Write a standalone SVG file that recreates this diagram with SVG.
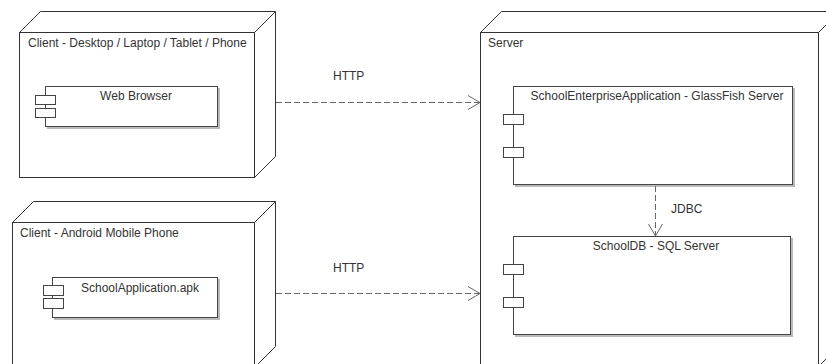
<svg xmlns="http://www.w3.org/2000/svg" width="826" height="364" viewBox="0 0 826 364">
<style>
.node{fill:#fff;stroke:#333;stroke-width:1}
.side{fill:#fff;stroke:#333;stroke-width:1}
.comp{fill:#fff;stroke:#444;stroke-width:1}
.shadow{fill:#bbb;stroke:none}
.port{fill:#fff;stroke:#444;stroke-width:1}
.t{font-family:"Liberation Sans",Arial,sans-serif;font-size:12px;fill:#333}
.dep{fill:none;stroke:#666;stroke-width:1;stroke-dasharray:6,3}
.head{fill:none;stroke:#666;stroke-width:1}
</style>
<rect width="826" height="364" fill="#fff"/>
<g id="client-desktop">
<path class="side" d="M19.5,32.5 L40.5,11.5 L275.5,11.5 L275.5,156.5 L254.5,177.5 L254.5,32.5 Z"/>
<path class="side" d="M254.5,32.5 L275.5,11.5"/>
<rect class="node" x="19.5" y="32.5" width="235" height="145"/>
<text class="t" x="28" y="47">Client - Desktop / Laptop / Tablet / Phone</text>
<g id="web-browser">
<rect class="shadow" x="47" y="88" width="173" height="41"/>
<rect class="comp" x="45.5" y="86.5" width="172" height="40"/>
<rect class="port" x="35.5" y="95.5" width="20" height="9"/>
<rect class="port" x="35.5" y="108.5" width="20" height="9"/>
<text class="t" x="136" y="100" text-anchor="middle">Web Browser</text>
</g>
</g>
<g id="client-android">
<path class="side" d="M12.5,222.5 L33.5,201.5 L275.5,201.5 L275.5,346.5 L254.5,367.5 L254.5,222.5 Z"/>
<path class="side" d="M254.5,222.5 L275.5,201.5"/>
<rect class="node" x="12.5" y="222.5" width="242" height="145"/>
<text class="t" x="20" y="237">Client - Android Mobile Phone</text>
<g id="school-application">
<rect class="shadow" x="54" y="279" width="166" height="41"/>
<rect class="comp" x="52.5" y="277.5" width="165" height="40"/>
<rect class="port" x="43.5" y="285.5" width="20" height="10"/>
<rect class="port" x="43.5" y="298.5" width="20" height="10"/>
<text class="t" x="140" y="292" text-anchor="middle">SchoolApplication.apk</text>
</g>
</g>
<g id="server">
<path class="side" d="M480.5,32.5 L501.5,11.5 L839.5,11.5 L839.5,345.5 L818.5,366.5 L818.5,32.5 Z"/>
<path class="side" d="M818.5,32.5 L839.5,11.5"/>
<rect class="node" x="480.5" y="32.5" width="338" height="334"/>
<text class="t" x="488" y="47">Server</text>
<g id="school-enterprise-app">
<rect class="shadow" x="515" y="88" width="280" height="99"/>
<rect class="comp" x="513.5" y="86.5" width="279" height="98"/>
<rect class="port" x="503.5" y="114.5" width="20" height="10"/>
<rect class="port" x="503.5" y="147.5" width="20" height="10"/>
<text class="t" x="657" y="100" text-anchor="middle">SchoolEnterpriseApplication - GlassFish Server</text>
</g>
<g id="school-db">
<rect class="shadow" x="515" y="238" width="278" height="99"/>
<rect class="comp" x="513.5" y="236.5" width="277" height="98"/>
<rect class="port" x="503.5" y="264.5" width="20" height="10"/>
<rect class="port" x="503.5" y="297.5" width="20" height="10"/>
<text class="t" x="656" y="250" text-anchor="middle">SchoolDB - SQL Server</text>
</g>
</g>
<g id="connectors">
<path class="dep" d="M276,102.5 L479,102.5"/>
<path class="head" d="M468,95.5 L480,102.5 L468,109.5"/>
<text class="t" x="333" y="80">HTTP</text>
<path class="dep" d="M276,293.5 L479,293.5"/>
<path class="head" d="M468,286.5 L480,293.5 L468,300.5"/>
<text class="t" x="333" y="272">HTTP</text>
<path class="dep" d="M655.5,186 L655.5,235"/>
<path class="head" d="M648.5,224 L655.5,236 L662.5,224"/>
<text class="t" x="671" y="213">JDBC</text>
</g>
</svg>
